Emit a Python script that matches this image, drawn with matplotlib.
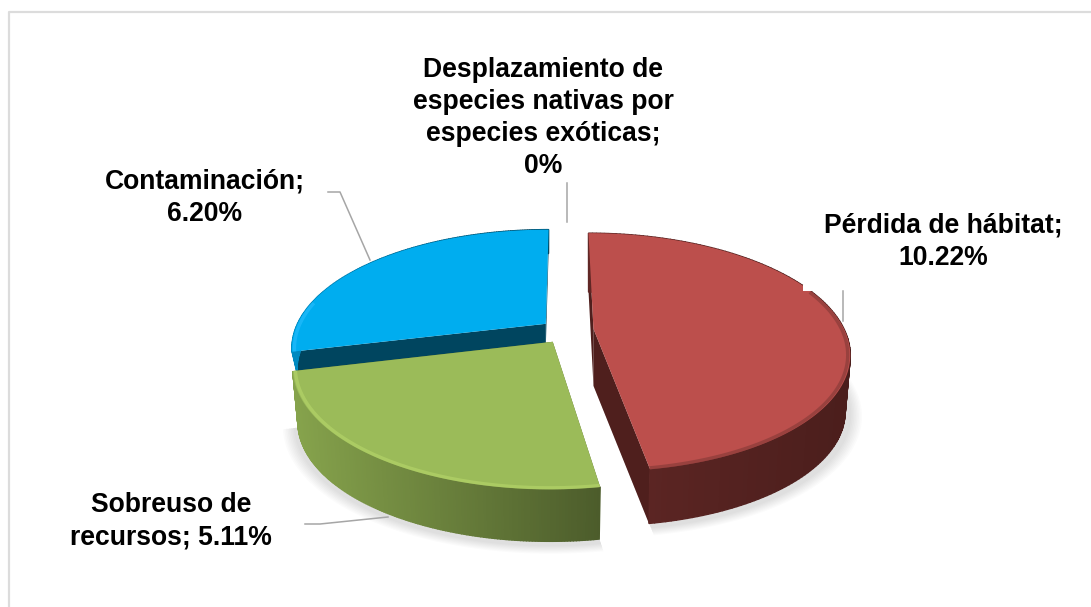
#!/usr/bin/env python3
"""Exploded 3D style pie of threats, drawn with plain polygons."""

import matplotlib
matplotlib.use('Agg')
import matplotlib.pyplot as plt
from matplotlib.colors import to_rgb
import numpy as np

# data
threats = ['Pérdida de hábitat', 'Sobreuso de recursos', 'Contaminación',
           'Desplazamiento de especies nativas por especies exóticas']
values = [10.22, 5.11, 6.20, 0]
value_labels = ['10.22%', '5.11%', '6.20%', '0%']

# slice styles (same order as values, zero slice has no mark)
top_colors = ['#bc4f4c', '#9bbb59', '#00adef']
radial_colors = ['#4f1f1d', '#55662f', '#00455f']
wall_left = ['#602725', '#86a34c', '#008ac0']
wall_right = ['#4b1e1c', '#4c5c2b', '#00455f']
rim_colors = ['#7d3634', '#b9d96c', '#2cbfff']
explode = [0.122, 0.08, 0.088]
wall_height = [57, 55, 22]
wall_shrink = 0.98
rim_limit = [0.35, 0.35, 0.2]
nudge_x = [0, 1, 0]
nudge_y = [0, 4, 0]

# projection of the unit disc on the canvas
cx, cy = 563, 330
scale_x, scale_y = 251, 115
persp = 0.197


def project(x, y):
    """Disc coordinates to canvas pixels, y axis of the disc goes to the back."""
    d = 1 + persp * y
    return cx + scale_x * x / d, cy - scale_y * y / d


def arc(start, end, off, r=1.0, n=160):
    t = np.linspace(start, end, n)
    return off[0] + r * np.sin(t), off[1] + r * np.cos(t)


def mix(a, b, f):
    a, b = np.array(to_rgb(a)), np.array(to_rgb(b))
    return tuple(a + (b - a) * f)


plt.rcParams['font.family'] = ['Liberation Sans', 'DejaVu Sans']
fig = plt.figure(figsize=(10.91, 6.07), dpi=100)
ax = fig.add_axes([0, 0, 1, 1])
ax.set_xlim(0, 1091)
ax.set_ylim(607, 0)
ax.axis('off')

# chart frame, only top and left end inside the picture
ax.plot([9, 9, 1091], [607, 12, 12], color='#dcdcdc', lw=1.6)

edges = np.cumsum([0] + values) / sum(values) * 2 * np.pi
slices = []
for i in range(3):
    mid = (edges[i] + edges[i + 1]) / 2
    off = (explode[i] * np.sin(mid), explode[i] * np.cos(mid))
    slices.append((edges[i], edges[i + 1], off))

# soft shadow
for i, (a0, a1, off) in enumerate(slices):
    if i == 2:
        continue
    for grow in np.linspace(0.04, 0.0, 8):
        ax_, ay_ = arc(a0, a1, off, 1 + grow)
        px, py = project(np.r_[off[0], ax_], np.r_[off[1], ay_])
        ax.fill(px + 1 + nudge_x[i], py + wall_height[i] + nudge_y[i] + 2, color='black',
                alpha=0.016, lw=0, zorder=1)

for i in [2, 1, 0]:
    a0, a1, off = slices[i]
    base = 2 + (2 - i) * 3
    h = wall_height[i]
    ox, oy = project(*off)
    ox, oy = ox + nudge_x[i], oy + nudge_y[i]

    # radial walls
    for a in (a0, a1):
        ex, ey = project(off[0] + np.sin(a), off[1] + np.cos(a))
        ex, ey = ex + nudge_x[i], ey + nudge_y[i]
        bx = ox + (ex - ox) * wall_shrink
        by = oy + (ey - oy) * wall_shrink + h
        ax.fill([ox, ex, bx, ox], [oy, ey, by, oy + h], color=radial_colors[i], lw=0, zorder=base)

    # outer wall with a horizontal gradient, bottom edge pulled in a bit
    wx, wy = arc(a0, a1, off)
    px, py = project(wx, wy)
    px, py = px + nudge_x[i], py + nudge_y[i]
    qx = ox + (px - ox) * wall_shrink
    qy = oy + (py - oy) * wall_shrink + h
    left, right = px.min(), px.max()
    for j in range(len(px) - 1):
        f = ((px[j] + px[j + 1]) / 2 - left) / (right - left)
        col = mix(wall_left[i], wall_right[i], f)
        ax.fill([px[j], px[j + 1], qx[j + 1], qx[j]],
                [py[j], py[j + 1], qy[j + 1], qy[j]],
                facecolor=col, edgecolor=col, lw=1.0, zorder=base + 1)

    # top face
    ax.fill(np.r_[ox, px], np.r_[oy, py], color=top_colors[i], lw=0, zorder=base + 2)

    # bevel along the front of the rim, a little inside the edge
    front = wy - off[1] < rim_limit[i]
    rx = ox + (px - ox) * 0.99
    ry = oy + (py - oy) * 0.99
    ax.plot(rx[front], ry[front], color=rim_colors[i], lw=2.4, alpha=0.55, zorder=base + 2,
            solid_capstyle='butt')

# small white patch left behind the label of the red slice
ax.fill([803, 818, 818, 803], [285, 285, 291, 291], color='white', lw=0, zorder=20)

# leader lines
leader = '#a6a6a6'
ax.plot([328, 340, 370], [192, 192, 260], color=leader, lw=1.1, zorder=21)
ax.plot([567, 567], [183, 222], color=leader, lw=1.1, zorder=21)
ax.plot([843, 843], [291, 321], color=leader, lw=1.1, zorder=21)
ax.plot([305, 320, 388], [524, 524, 517], color=leader, lw=1.1, zorder=21)

# labels
fs = 19.1
ls = 1.31
for x, y, s in [(543, 118, 'Desplazamiento de\nespecies nativas por\nespecies exóticas;\n' + value_labels[3]),
                (943, 242, 'Pérdida de hábitat;\n' + value_labels[0]),
                (205, 198, 'Contaminación;\n' + value_labels[2]),
                (171, 521, 'Sobreuso de\nrecursos; ' + value_labels[1])]:
    ax.text(x, y, s, ha='center', va='center', fontsize=fs, fontweight='bold',
            linespacing=ls, zorder=22)

fig.savefig('out.png', dpi=100)
